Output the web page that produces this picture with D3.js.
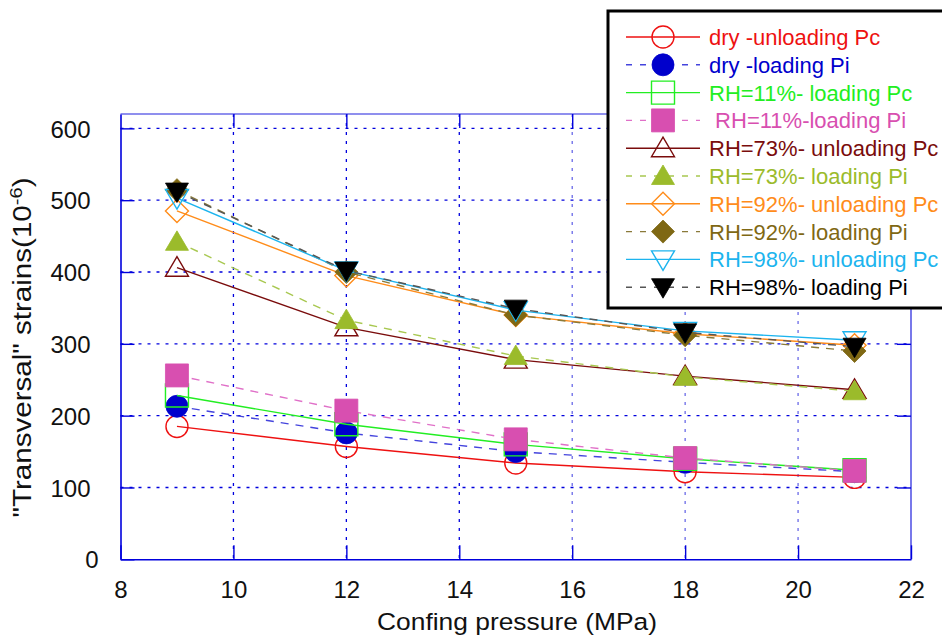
<!DOCTYPE html>
<html>
<head>
<meta charset="utf-8">
<script src="https://cdn.jsdelivr.net/npm/d3@7/dist/d3.min.js"></script>
<style>
  html, body { margin: 0; padding: 0; background: #fff; }
  svg { display: block; font-family: "Liberation Sans", Arial, sans-serif; }
</style>
</head>
<body>
<svg id="chart" width="942" height="635"></svg>
<script>
// ---------------- data ----------------
const pressures = [9, 12, 15, 18, 21];
const xTicks = [8, 10, 12, 14, 16, 18, 20, 22];
const yTicks = [0, 100, 200, 300, 400, 500, 600];

const seriesLabels = [
  "dry -unloading Pc",
  "dry -loading Pi",
  "RH=11%- loading Pc",
  " RH=11%-loading Pi",
  "RH=73%- unloading Pc",
  "RH=73%- loading Pi",
  "RH=92%- unloading Pc",
  "RH=92%- loading Pi",
  "RH=98%- unloading Pc",
  "RH=98%- loading Pi"
];
const dryPc   = [185, 157, 134, 122, 114];
const dryPi   = [213, 176, 150, 135, 122];
const rh11Pc  = [228, 188, 160, 140, 124];
const rh11Pi  = [256, 207, 167, 141, 123];
const rh73Pc  = [406, 323, 278, 255, 236];
const rh73Pi  = [442, 333, 283, 254, 234];
const rh92Pc  = [485, 395, 340, 314, 298];
const rh92Pi  = [514, 400, 340, 312, 290];
const rh98Pc  = [503, 402, 347, 318, 305];
const rh98Pi  = [512, 402, 349, 316, 296];
const seriesValues = [dryPc, dryPi, rh11Pc, rh11Pi, rh73Pc, rh73Pi, rh92Pc, rh92Pi, rh98Pc, rh98Pi];

// ---------------- styles ----------------
const markerColors = ["#ee1111", "#0000cc", "#22ee22", "#d84fb0", "#7a0c0c", "#9bbb2b", "#ff8c1a", "#7f6814", "#1cb4ee", "#000000"];
const lineColors   = ["#ee1111", "#4444dd", "#22ee22", "#e070c8", "#7a0c0c", "#a8c850", "#ff8c1a", "#8a7a3a", "#1cb4ee", "#555555"];
const textColors   = ["#ee1111", "#0000cc", "#22ee22", "#d84fb0", "#7a0c0c", "#9bbb2b", "#ff8c1a", "#7f6814", "#1cb4ee", "#000000"];
const shapes   = ["circle", "circle", "square", "square", "up", "up", "diamond", "diamond", "down", "down"];
const filled   = [false, true, false, true, false, true, false, true, false, true];
const dashed   = [false, true, false, true, false, true, false, true, false, true];

// ---------------- geometry ----------------
const svg = d3.select("#chart");
const pLeft = 120.5, pRight = 911, pTop = 114, pBottom = 559.3;

const x = d3.scaleLinear().domain([8, 22]).range([pLeft, pRight]);
const y = d3.scaleLinear().domain([0, 620]).range([pBottom, pTop]);

const axisBlue = "#0000dd";
const frameBlue = "#6a6ae8";

// grid lines
const grid = svg.append("g");
grid.selectAll("line.h").data(yTicks.filter(v => v > 0)).join("line")
  .attr("x1", pLeft).attr("x2", pRight)
  .attr("y1", d => y(d)).attr("y2", d => y(d))
  .attr("stroke", axisBlue).attr("stroke-width", 1.3).attr("stroke-dasharray", "3,6");
grid.selectAll("line.v").data(xTicks.filter(v => v > 8 && v < 22)).join("line")
  .attr("y1", pTop).attr("y2", pBottom)
  .attr("x1", d => x(d)).attr("x2", d => x(d))
  .attr("stroke", d => d >= 16 ? "#6a6ae8" : axisBlue)
  .attr("stroke-width", 1.3).attr("stroke-dasharray", "3,6");

// frame (top and right)
svg.append("line").attr("x1", pLeft).attr("x2", pRight).attr("y1", pTop).attr("y2", pTop)
  .attr("stroke", frameBlue).attr("stroke-width", 1.5);
svg.append("line").attr("x1", pRight).attr("x2", pRight).attr("y1", pTop).attr("y2", pBottom)
  .attr("stroke", frameBlue).attr("stroke-width", 1.8);

// axes
const tickLen = 14;
const gx = svg.append("g").attr("transform", `translate(0,${pBottom})`)
  .call(d3.axisBottom(x).tickValues(xTicks).tickSizeInner(-tickLen).tickSizeOuter(0).tickPadding(22));
const gy = svg.append("g").attr("transform", `translate(${pLeft},0)`)
  .call(d3.axisLeft(y).tickValues(yTicks).tickSizeInner(-tickLen).tickSizeOuter(0).tickPadding(30));
const gxt = svg.append("g").attr("transform", `translate(0,${pTop})`)
  .call(d3.axisTop(x).tickValues(xTicks.filter(v => v > 8 && v < 22)).tickSizeInner(-tickLen).tickSizeOuter(0).tickFormat(""));
const gyr = svg.append("g").attr("transform", `translate(${pRight},0)`)
  .call(d3.axisRight(y).tickValues(yTicks.filter(v => v > 0)).tickSizeInner(-tickLen).tickSizeOuter(0).tickFormat(""));
gxt.select(".domain").remove();
gyr.select(".domain").remove();

[gx, gy, gxt, gyr].forEach(g => {
  g.selectAll(".domain").attr("stroke", axisBlue).attr("stroke-width", 1.6);
  g.selectAll(".tick line").attr("stroke", axisBlue).attr("stroke-width", 1.4);
  g.selectAll(".tick text").attr("fill", "#111").style("font-size", "24px")
    .style("font-family", '"Liberation Sans", Arial, sans-serif');
});
gy.selectAll(".tick text").attr("dy", "0.36em").filter(d => d === 0).attr("dx", 8);
gx.selectAll(".tick text").attr("dy", "0.7em");

// axis titles
svg.append("text").attr("x", 517).attr("y", 630)
  .attr("text-anchor", "middle").style("font-size", "24.5px").attr("fill", "#111")
  .attr("textLength", 280).attr("lengthAdjust", "spacingAndGlyphs")
  .text("Confing pressure (MPa)");
const yt = svg.append("text").attr("transform", "translate(31,347.5) rotate(-90)")
  .attr("text-anchor", "middle").style("font-size", "25px").attr("fill", "#111")
  .attr("textLength", 340).attr("lengthAdjust", "spacingAndGlyphs");
yt.append("tspan").text('"Transversal" strains(10');
yt.append("tspan").attr("dy", "-9").style("font-size", "17px").text("-6");
yt.append("tspan").attr("dy", "9").text(")");

// marker shapes
const symTypes = {
  circle: { draw(c, s) { const r = 11; c.moveTo(r, 0); c.arc(0, 0, r, 0, 2 * Math.PI); } },
  square: { draw(c, s) { const h = 11.5; c.moveTo(-h, -h); c.lineTo(h, -h); c.lineTo(h, h); c.lineTo(-h, h); c.closePath(); } },
  up: { draw(c, s) { c.moveTo(0, -11); c.lineTo(11.5, 8.5); c.lineTo(-11.5, 8.5); c.closePath(); } },
  down: { draw(c, s) { c.moveTo(0, 11); c.lineTo(11.5, -8.5); c.lineTo(-11.5, -8.5); c.closePath(); } },
  diamond: { draw(c, s) { c.moveTo(0, -11.5); c.lineTo(11.5, 0); c.lineTo(0, 11.5); c.lineTo(-11.5, 0); c.closePath(); } }
};
const symPath = i => d3.symbol().type(symTypes[shapes[i]])();

function drawMarker(g, i, cx, cy) {
  g.append("path").attr("d", symPath(i))
    .attr("transform", `translate(${cx},${cy})`)
    .attr("fill", filled[i] ? markerColors[i] : "none")
    .attr("stroke", markerColors[i]).attr("stroke-width", filled[i] ? 0.8 : 1.4);
}

// series
const line = d3.line().x(d => x(d[0])).y(d => y(d[1]));
const plot = svg.append("g");
seriesValues.forEach((vals, i) => {
  const g = plot.append("g");
  const pts = pressures.map((p, k) => [p, vals[k]]);
  g.append("path").datum(pts).attr("d", line)
    .attr("fill", "none").attr("stroke", lineColors[i]).attr("stroke-width", 1.4)
    .attr("stroke-dasharray", dashed[i] ? "8,7" : null);
  pts.forEach(p => drawMarker(g, i, x(p[0]), y(p[1])));
});

// legend
const lg = svg.append("g");
lg.append("rect").attr("x", 608).attr("y", 11).attr("width", 340).attr("height", 297)
  .attr("fill", "#fff").attr("stroke", "#000").attr("stroke-width", 3);
seriesLabels.forEach((lab, i) => {
  const cy = 37 + i * 27.8;
  lg.append("line").attr("x1", 626).attr("x2", 700).attr("y1", cy).attr("y2", cy)
    .attr("stroke", lineColors[i]).attr("stroke-width", 1.4)
    .attr("stroke-dasharray", dashed[i] ? "6,8" : null);
  drawMarker(lg, i, 663, cy);
  lg.append("text").attr("x", 709).attr("y", cy).attr("dy", "0.36em")
    .attr("fill", textColors[i]).style("font-size", "22px").style("white-space", "pre")
    .text(lab);
});
</script>
</body>
</html>
